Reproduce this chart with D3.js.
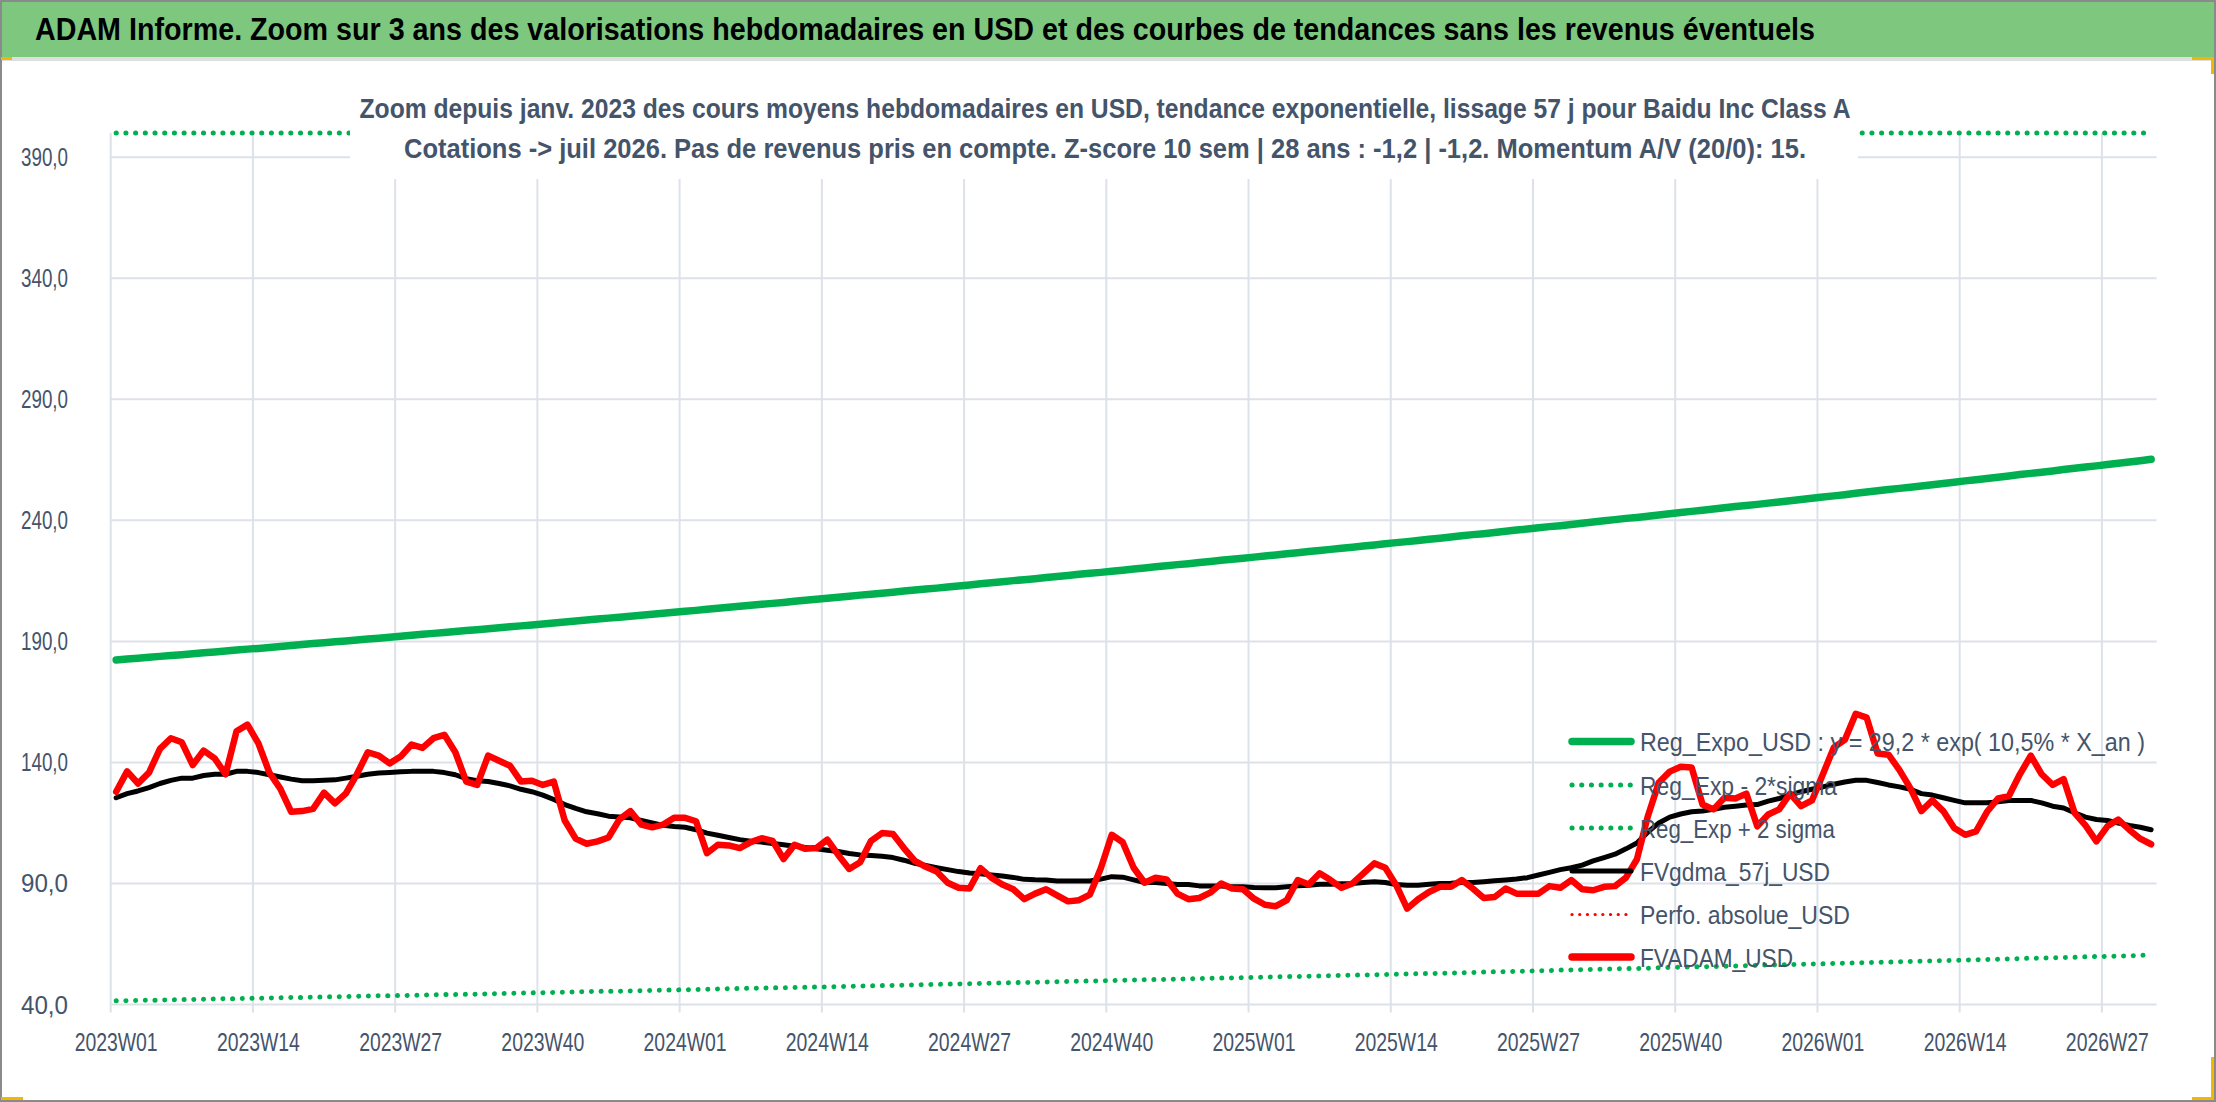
<!DOCTYPE html>
<html><head><meta charset="utf-8">
<script src="https://cdn.jsdelivr.net/npm/d3@7"></script>
<style>html,body{margin:0;padding:0;background:#fff;overflow:hidden}</style>
</head><body>
<svg id="c" width="2216" height="1102"></svg>
<script>
const titleText = "ADAM Informe. Zoom sur 3 ans des valorisations hebdomadaires en USD et des courbes de tendances sans les revenus éventuels";
const subtitle1 = "Zoom depuis janv. 2023 des cours moyens hebdomadaires en USD, tendance exponentielle, lissage 57 j pour Baidu Inc Class A";
const subtitle2 = "Cotations -> juil 2026. Pas de revenus pris en compte. Z-score 10 sem | 28 ans : -1,2 | -1,2. Momentum A/V (20/0): 15.";

const years = [2023, 2024, 2025, 2026];
const weeksShown = [52, 52, 52, 31];
const xTickLabels = ["2023W01","2023W14","2023W27","2023W40","2024W01","2024W14","2024W27","2024W40","2025W01","2025W14","2025W27","2025W40","2026W01","2026W14","2026W27"];
const yTicks = [40, 90, 140, 190, 240, 290, 340, 390];

const legendNames = ["Reg_Expo_USD : y = 29,2 * exp( 10,5% *  X_an )", "Reg_Exp - 2*sigma", "Reg_Exp + 2 sigma", "FVgdma_57j_USD", "Perfo. absolue_USD", "FVADAM_USD"];

// Reg_Expo_USD (green solid)
const regExpo = [
182.3,182.7,183.0,183.4,183.8,184.2,184.5,184.9,185.3,185.6,186.0,186.4,186.8,
187.1,187.5,187.9,188.3,188.7,189.1,189.4,189.8,190.2,190.6,191.0,191.3,191.7,
192.1,192.5,192.9,193.3,193.7,194.1,194.5,194.8,195.2,195.6,196.0,196.4,196.8,
197.2,197.6,198.0,198.4,198.8,199.2,199.6,200.0,200.4,200.8,201.2,201.6,202.0,
202.4,202.8,203.3,203.7,204.1,204.5,204.9,205.3,205.7,206.1,206.6,207.0,207.4,
207.8,208.2,208.6,209.1,209.5,209.9,210.3,210.8,211.2,211.6,212.0,212.5,212.9,
213.3,213.8,214.2,214.6,215.1,215.5,215.9,216.4,216.8,217.2,217.7,218.1,218.5,
219.0,219.4,219.9,220.3,220.8,221.2,221.7,222.1,222.6,223.0,223.5,223.9,224.3,
224.8,225.3,225.7,226.2,226.6,227.1,227.5,228.0,228.5,228.9,229.4,229.8,230.3,
230.8,231.2,231.7,232.2,232.6,233.1,233.6,234.1,234.5,235.0,235.5,236.0,236.4,
236.9,237.4,237.8,238.3,238.8,239.3,239.8,240.3,240.8,241.2,241.7,242.2,242.7,
243.2,243.7,244.2,244.7,245.2,245.7,246.1,246.6,247.1,247.6,248.1,248.6,249.1,
249.6,250.1,250.6,251.2,251.7,252.2,252.7,253.2,253.7,254.2,254.7,255.2,255.7,
256.3,256.8,257.3,257.8,258.3,258.9,259.4,259.9,260.4,261.0,261.5,262.0,262.5,
263.1,263.6,264.1,264.6,265.2];

// Reg_Exp - 2*sigma (green dotted, lower)
const regLow = [
41.5,41.6,41.7,41.8,41.8,41.9,42.0,42.1,42.2,42.3,42.4,42.4,42.5,
42.6,42.7,42.8,42.9,42.9,43.0,43.1,43.2,43.3,43.4,43.5,43.6,43.6,
43.7,43.8,43.9,44.0,44.1,44.1,44.2,44.3,44.4,44.5,44.6,44.7,44.8,
44.9,45.0,45.1,45.2,45.3,45.4,45.5,45.5,45.6,45.7,45.8,45.9,46.0,
46.1,46.2,46.3,46.4,46.5,46.6,46.7,46.8,46.9,46.9,47.0,47.1,47.2,
47.3,47.4,47.5,47.6,47.7,47.8,47.9,48.0,48.1,48.2,48.3,48.4,48.5,
48.6,48.7,48.8,48.9,49.0,49.1,49.2,49.3,49.4,49.5,49.6,49.7,49.8,
49.9,50.0,50.1,50.2,50.3,50.4,50.5,50.6,50.7,50.8,50.9,51.0,51.1,
51.2,51.3,51.4,51.5,51.6,51.7,51.8,51.9,52.0,52.1,52.2,52.3,52.4,
52.5,52.6,52.7,52.8,52.9,53.0,53.1,53.2,53.4,53.5,53.6,53.7,53.8,
53.9,54.0,54.2,54.3,54.4,54.5,54.6,54.7,54.8,54.9,55.0,55.2,55.3,
55.4,55.5,55.6,55.7,55.8,55.9,56.0,56.2,56.3,56.4,56.5,56.6,56.7,
56.8,57.0,57.1,57.2,57.3,57.4,57.5,57.7,57.8,57.9,58.0,58.1,58.2,
58.4,58.5,58.6,58.7,58.8,59.0,59.1,59.2,59.3,59.4,59.5,59.7,59.8,
59.9,60.0,60.1,60.3,60.4];

// Reg_Exp + 2 sigma (green dotted, upper: above the axis maximum)
const regHigh = [
801,802,804,806,807,809,810,812,814,815,817,819,820,
822,824,825,827,829,830,832,834,835,837,839,840,842,
844,845,847,849,851,852,854,856,857,859,861,863,864,
866,868,870,871,873,875,877,878,880,882,884,885,887,
889,891,893,894,896,898,900,902,904,905,907,909,911,
913,914,916,918,920,922,924,926,928,929,931,933,935,
937,939,941,943,945,946,948,950,952,954,956,958,960,
962,964,966,968,970,972,973,975,977,979,981,983,985,
987,989,991,993,995,997,999,1001,1003,1005,1007,1009,1011,
1013,1016,1018,1020,1022,1024,1026,1028,1030,1032,1034,1036,1038,
1040,1042,1045,1047,1049,1051,1053,1055,1057,1059,1062,1064,1066,
1068,1070,1072,1074,1077,1079,1081,1083,1085,1088,1090,1092,1094,
1096,1099,1101,1103,1105,1108,1110,1112,1114,1116,1119,1121,1123,
1125,1128,1130,1132,1135,1137,1139,1141,1144,1146,1148,1151,1153,
1155,1157,1160,1162,1165];

// FVgdma_57j_USD (black)
const fvgdma = [
125.4,127.1,128.2,129.6,131.3,132.6,133.5,133.5,134.6,135.1,135.1,136.3,136.3,
135.8,134.9,134.0,133.1,132.4,132.4,132.6,132.8,133.5,134.3,135.1,135.6,135.8,
136.1,136.3,136.3,136.3,135.8,134.9,133.3,132.4,132.1,131.3,130.3,128.9,127.9,
126.5,124.7,122.6,121.0,119.6,118.8,117.8,117.5,117.1,116.0,115.0,114.0,113.5,
113.2,112.2,110.8,109.9,109.0,108.1,107.4,107.1,106.5,106.0,105.4,104.9,104.3,
103.7,103.2,102.4,101.8,101.5,101.2,100.7,99.6,98.3,97.4,96.5,95.7,94.9,
94.3,94.0,93.5,93.1,92.5,91.7,91.5,91.4,91.0,91.0,91.0,91.0,91.8,
92.8,92.6,91.5,90.4,90.4,90.0,89.6,89.6,89.0,89.0,88.9,88.6,88.6,
88.3,88.2,88.2,88.6,89.0,89.3,89.7,89.7,89.9,90.0,90.4,90.7,90.4,
89.6,89.3,89.3,89.7,90.0,90.1,90.4,90.4,90.7,91.1,91.4,91.8,92.4,
93.5,94.6,95.7,96.5,97.6,99.3,100.7,102.1,104.3,106.7,111.2,115.0,117.4,
118.7,119.6,119.9,120.6,121.5,121.9,122.4,122.6,124.0,125.1,126.5,127.9,128.9,
129.9,131.0,131.9,132.6,132.6,131.7,130.7,129.9,128.9,127.1,126.5,125.4,124.3,
123.3,123.3,123.3,123.7,124.3,124.3,124.3,123.3,121.9,121.2,119.2,117.4,116.4,
116.0,115.0,114.0,113.2,112.2];

// FVADAM_USD (red)
const fvadam = [
127.9,136.3,131.3,135.8,145.6,150.0,148.3,138.9,144.9,141.7,135.1,152.9,155.6,
147.9,135.8,129.2,119.6,119.9,120.8,127.5,123.1,127.2,135.1,144.2,142.8,139.6,
142.4,147.4,146.0,150.0,151.4,144.2,132.1,130.7,142.8,140.7,138.6,132.1,132.4,
130.7,132.1,116.0,108.5,106.4,107.4,109.0,116.5,119.9,114.3,113.2,114.3,117.1,
117.1,115.7,102.5,106.0,105.7,104.6,107.1,108.7,107.6,100.1,106.0,104.3,104.6,
108.1,101.8,96.0,98.8,107.6,110.8,110.4,104.6,99.3,96.9,94.9,90.3,88.2,
87.9,96.3,92.4,89.6,87.6,83.5,85.8,87.6,85.1,82.6,83.1,85.4,96.3,
110.1,107.0,96.5,90.3,92.4,91.7,85.8,83.5,84.0,86.2,90.0,87.9,87.6,
83.7,81.2,80.6,83.1,91.4,89.6,94.2,91.4,88.2,90.0,94.2,98.3,96.5,
89.3,79.6,83.5,86.5,88.6,88.6,91.4,87.9,84.0,84.4,87.9,85.8,85.8,
85.8,88.9,88.2,91.4,87.6,87.2,88.6,88.9,92.4,100.0,117.8,131.7,136.2,
138.2,137.9,122.6,120.6,125.4,125.1,127.1,113.6,118.5,120.6,127.1,121.9,124.3,
135.1,146.2,149.3,160.1,158.5,143.7,143.2,136.8,129.3,119.9,124.3,119.9,112.9,
110.1,111.5,119.6,125.1,126.1,135.1,142.8,135.1,130.7,133.1,119.2,114.0,107.4,
113.6,116.4,112.2,108.5,106.2];

// ---- categories (ISO weeks) ----
const categories = [];
years.forEach((yr, k) => {
  for (let w = 1; w <= weeksShown[k]; w++) categories.push(yr + "W" + String(w).padStart(2, "0"));
});

const W = 2216, H = 1102;
const FONT = "'Liberation Sans Narrow','Arial Narrow','Liberation Sans',Arial,sans-serif";
const TXT = "#44546A";
const GRID = "#dde2e9";
const GREEN = "#00B050", RED = "#FF0000";

const svg = d3.select("#c").attr("font-family", FONT);

// background & frame
svg.append("rect").attr("width", W).attr("height", H).attr("fill", "#fff");
svg.append("rect").attr("x", 1).attr("y", 1).attr("width", W - 2).attr("height", H - 2)
  .attr("fill", "none").attr("stroke", "#8a8a8a").attr("stroke-width", 2);

// title band
svg.append("rect").attr("x", 2).attr("y", 2).attr("width", W - 4).attr("height", 55).attr("fill", "#7ec77f");
svg.append("rect").attr("x", 2).attr("y", 57).attr("width", W - 4).attr("height", 4).attr("fill", "#dedede");
svg.append("text").attr("x", 35).attr("y", 40).attr("font-size", 31).attr("font-weight", "bold")
  .attr("fill", "#000").attr("textLength", 1780).attr("lengthAdjust", "spacingAndGlyphs").text(titleText);

// scales
const plotL = 110.7, plotR = 2156.6, plotT = 133, plotB = 1004.5;
const x = d3.scaleBand().domain(categories).range([plotL, plotR]).paddingInner(0).paddingOuter(0);
const y = d3.scaleLinear().domain([40, 400]).range([plotB, plotT]).clamp(true);
const cx = c => x(c) + x.bandwidth() / 2;

// gridlines
const g = svg.append("g");
g.selectAll(".hg").data(yTicks).join("line")
  .attr("x1", plotL).attr("x2", plotR).attr("y1", d => y(d)).attr("y2", d => y(d))
  .attr("stroke", GRID).attr("stroke-width", 2);
g.selectAll(".vg").data(xTickLabels).join("line")
  .attr("x1", d => x(d)).attr("x2", d => x(d)).attr("y1", plotT).attr("y2", plotB + 8)
  .attr("stroke", GRID).attr("stroke-width", 2);

// y labels
const fmt = v => d3.format(".1f")(v).replace(".", ",");
svg.selectAll(".yl").data(yTicks).join("text")
  .attr("x", 68).attr("y", d => y(d) + 9).attr("text-anchor", "end")
  .attr("font-size", 25.5).attr("fill", TXT)
  .attr("textLength", 47).attr("lengthAdjust", "spacingAndGlyphs").text(fmt);

// x labels
svg.selectAll(".xl").data(xTickLabels).join("text")
  .attr("x", d => cx(d)).attr("y", 1051).attr("text-anchor", "middle")
  .attr("font-size", 25.5).attr("fill", TXT)
  .attr("textLength", 83).attr("lengthAdjust", "spacingAndGlyphs").text(d => d);

// series
const line = d3.line().x((d, i) => cx(categories[i])).y(d => y(d));
const series = [
  { data: regExpo, color: GREEN, w: 7.5, dash: null },
  { data: regLow, color: GREEN, w: 5, dash: "0.1 9.6" },
  { data: regHigh, color: GREEN, w: 5, dash: "0.1 9.6" },
  { data: fvgdma, color: "#000", w: 5, dash: null },
  { data: fvadam, color: RED, w: 6.5, dash: null }
];
svg.append("g").selectAll("path").data(series).join("path")
  .attr("d", s => line(s.data)).attr("fill", "none")
  .attr("stroke", s => s.color).attr("stroke-width", s => s.w)
  .attr("stroke-dasharray", s => s.dash)
  .attr("stroke-linecap", "round").attr("stroke-linejoin", "round");

// subtitle box
svg.append("rect").attr("x", 350).attr("y", 62).attr("width", 1508).attr("height", 117).attr("fill", "#fff");
svg.append("text").attr("x", 1105).attr("y", 118).attr("text-anchor", "middle").attr("font-size", 28)
  .attr("font-weight", "bold").attr("fill", TXT).attr("textLength", 1491).attr("lengthAdjust", "spacingAndGlyphs").text(subtitle1);
svg.append("text").attr("x", 1105).attr("y", 158).attr("text-anchor", "middle").attr("font-size", 28)
  .attr("font-weight", "bold").attr("fill", TXT).attr("textLength", 1402).attr("lengthAdjust", "spacingAndGlyphs").text(subtitle2);

// legend
const legendStyles = [
  { color: GREEN, w: 7.5, dash: null, len: 505 },
  { color: GREEN, w: 5, dash: "0.1 9.6", len: 197 },
  { color: GREEN, w: 5, dash: "0.1 9.6", len: 195 },
  { color: "#000", w: 5, dash: null, len: 190 },
  { color: RED, w: 3.2, dash: "0.1 7.6", len: 210 },
  { color: RED, w: 7.5, dash: null, len: 153 }
];
const legY = [741.5, 785, 828, 871, 914.5, 957];
const leg = svg.append("g").selectAll("g").data(legendNames).join("g")
  .attr("transform", (d, i) => `translate(0,${legY[i]})`);
leg.append("line").attr("x1", 1572).attr("x2", 1631).attr("y1", 0).attr("y2", 0)
  .attr("stroke", (d, i) => legendStyles[i].color).attr("stroke-width", (d, i) => legendStyles[i].w)
  .attr("stroke-dasharray", (d, i) => legendStyles[i].dash).attr("stroke-linecap", "round");
leg.append("text").attr("x", 1640).attr("y", 9.5).attr("font-size", 26).attr("fill", TXT)
  .attr("textLength", (d, i) => legendStyles[i].len).attr("lengthAdjust", "spacingAndGlyphs").text(d => d);

// selection handles (decorative)
const Y = "#f2b705";
svg.append("rect").attr("x", 1).attr("y", 57).attr("width", 11).attr("height", 3).attr("fill", Y);
svg.append("rect").attr("x", 2192).attr("y", 57).attr("width", 22).attr("height", 3).attr("fill", Y);
svg.append("rect").attr("x", 2211).attr("y", 57).attr("width", 3).attr("height", 17).attr("fill", Y);
svg.append("rect").attr("x", 2211).attr("y", 1057).attr("width", 3).attr("height", 43).attr("fill", Y);
svg.append("rect").attr("x", 2192).attr("y", 1097).attr("width", 22).attr("height", 3).attr("fill", Y);
svg.append("rect").attr("x", 1).attr("y", 1097).attr("width", 22).attr("height", 3).attr("fill", Y);
</script>
</body></html>
